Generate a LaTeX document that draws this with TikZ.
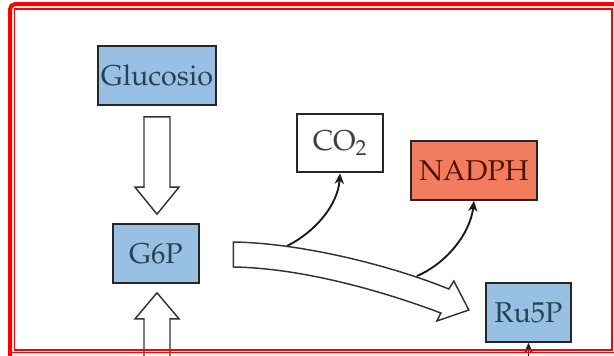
\documentclass[tikz,border=0pt]{standalone}
\usepackage[T1]{fontenc}
\usepackage{mathpazo}
\usetikzlibrary{arrows.meta,calc}
\definecolor{boxblue}{RGB}{152,192,226}
\definecolor{boxred}{RGB}{242,124,94}
\definecolor{txtblue}{RGB}{38,66,84}
\definecolor{txtred}{RGB}{80,20,10}
\definecolor{framered}{RGB}{255,0,0}
\tikzset{
box/.style={draw=black!85,line width=1.5pt,inner sep=0pt,minimum height=44pt,font=\fontsize{21.5}{24}\selectfont},
bluebox/.style={box,fill=boxblue,text=txtblue},
hollow/.style={draw=black!80,fill=white,line width=1.1pt,line join=miter},
thinarrow/.style={draw=black!90,line width=1.4pt,-{Stealth[length=8pt,width=7pt]}},
}

\begin{document}
\begin{tikzpicture}[x=0.75pt,y=-0.75pt]
\useasboundingbox (0,0) rectangle (614,355);
\fill[white] (0,0) rectangle (614,355);

% boxes
\node[bluebox,minimum width=89pt] (gluc) at (157,75.5) {Glucosio};
\node[bluebox,minimum width=65pt] (g6p) at (156,253.5) {G6P};
\node[box,fill=white,text=black!75,minimum width=65pt] (co2) at (340,143) {CO$_2$};
\node[box,fill=boxred,text=txtred,minimum width=95pt] (nadph) at (474,170.5) {NADPH};
\node[bluebox,minimum width=64pt] (ru5p) at (528.5,312.5) {Ru5P};

% hollow arrows
\coordinate (d1) at ($(gluc.south)+(0,11)$);
\coordinate (d2) at ($(g6p.north)+(1,-9)$);
\draw[hollow] (d1) ++(-13,0) -- ++(26,0) -- ($(d2)+(13,-27)$) -- ($(d2)+(22,-27)$)
 -- (d2) -- ($(d2)+(-22,-27)$) -- ($(d2)+(-13,-27)$) -- cycle;
\coordinate (u2) at ($(g6p.south)+(1,9)$);
\draw[hollow] (u2) -- ($(u2)+(22,26)$) -- ($(u2)+(13,26)$) -- ($(u2)+(13,80)$)
 -- ($(u2)+(-13,80)$) -- ($(u2)+(-13,26)$) -- ($(u2)+(-22,26)$) -- cycle;

\coordinate (bs) at ($(g6p.east)+(33,1)$);
\coordinate (bt) at ($(ru5p.west)+(-16,-2.5)$);
\draw[hollow] ($(bs)+(0,-12.5)$) .. controls ($(bs)+(67,-11.5)$) and ($(bt)+(-79,-45)$) .. ($(bt)+(-20,-21)$)
 -- ($(bt)+(-15,-29)$) -- (bt) -- ($(bt)+(-32,11)$) -- ($(bt)+(-28,3)$)
 .. controls ($(bt)+(-89,-20)$) and ($(bs)+(67,13.5)$) .. ($(bs)+(0,12.5)$) -- cycle;

% side products
\coordinate (c1) at (287,246);
\coordinate (c2) at (417,276);
\draw[thinarrow] (c1) .. controls (315,232) and (338,205) .. (co2.south);
\draw[thinarrow] (c2) .. controls (445,264) and (470,235) .. (nadph.south);
\coordinate (r1) at (528.5,380);
\draw[thinarrow] (r1) -- (ru5p.south);

% frame
\draw[framered,line width=3pt,rounded corners=4] (10,400) -- (10,4) -- (640,4);
\draw[framered,line width=1.2pt] (10,352.5) -- (614,352.5);
\draw[framered,line width=1.1pt] (14.5,9) rectangle (612,350);
\end{tikzpicture}
\end{document}
